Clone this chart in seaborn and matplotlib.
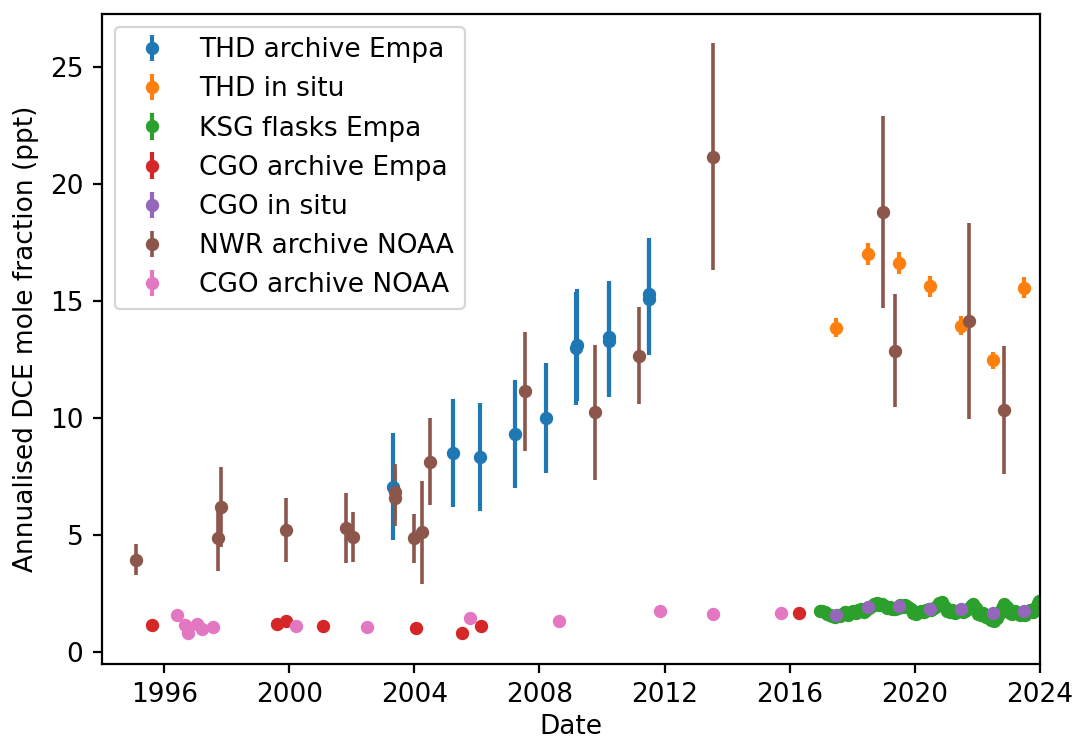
import matplotlib
matplotlib.use("Agg")
import matplotlib.pyplot as plt
import matplotlib.dates as mdates
import numpy as np
import pandas as pd
import seaborn as sns

# ---- THD archive Empa ----
thd_arch_dates = ["2003-04-22", "2005-03-22", "2006-02-06", "2007-03-22", "2008-03-15",
                  "2009-03-06", "2009-03-10", "2010-03-20", "2010-03-24", "2011-06-29", "2011-07-03"]
thd_arch_vals = [7.05, 8.48, 8.30, 9.29, 9.98, 12.95, 13.10, 13.28, 13.45, 15.08, 15.28]
thd_arch_err = [2.29, 2.30, 2.30, 2.32, 2.33, 2.40, 2.40, 2.40, 2.40, 2.40, 2.40]

# ---- THD in situ ----
thd_insitu_dates = ["2017-07-01", "2018-07-01", "2019-07-01", "2020-07-01",
                    "2021-07-01", "2022-07-01", "2023-07-01"]
thd_insitu_vals = [13.84, 16.98, 16.61, 15.61, 13.92, 12.44, 15.55]
thd_insitu_err = [0.40, 0.48, 0.46, 0.45, 0.40, 0.36, 0.45]

# ---- KSG flasks Empa (monthly, mid-month) ----
ksg_monthly = pd.date_range("2017-01-01", periods=84, freq="MS") + pd.Timedelta(days=14)
ksg_dates = ["2016-12-20"] + [d.strftime("%Y-%m-%d") for d in ksg_monthly] + ["2023-12-28"]
ksg_vals = [1.74,
            1.74, 1.70, 1.62, 1.55, 1.50, 1.46, 1.56, 1.50, 1.60, 1.67, 1.56, 1.70,
            1.72, 1.64, 1.76, 1.80, 1.70, 1.79, 1.86, 1.94, 2.04, 2.07, 1.97, 2.01,
            1.95, 1.86, 1.91, 1.83, 1.80, 1.87, 1.97, 1.89, 1.99, 1.92, 1.83, 1.64,
            1.60, 1.71, 1.74, 1.67, 1.77, 1.83, 1.77, 1.87, 1.93, 2.07, 2.11, 1.89,
            1.74, 1.68, 1.77, 1.65, 1.72, 1.79, 1.69, 1.75, 1.83, 1.95, 2.01, 1.85,
            1.60, 1.55, 1.65, 1.49, 1.43, 1.36, 1.30, 1.42, 1.61, 1.85, 2.01, 1.92,
            1.66, 1.59, 1.73, 1.63, 1.55, 1.63, 1.57, 1.71, 1.77, 1.71, 1.91, 2.08,
            2.14]
ksg_err = [0.05] * len(ksg_vals)

# ---- CGO archive Empa ----
cgo_arch_dates = ["1995-08-07", "1999-08-08", "1999-11-22", "2001-01-26",
                  "2004-01-26", "2005-07-05", "2006-02-14", "2016-04-16"]
cgo_arch_vals = [1.14, 1.17, 1.29, 1.11, 1.00, 0.81, 1.07, 1.64]
cgo_arch_err = [0.05, 0.05, 0.05, 0.05, 0.05, 0.05, 0.05, 0.05]

# ---- CGO in situ ----
cgo_insitu_dates = ["2017-07-01", "2018-07-01", "2019-07-01", "2020-07-01",
                    "2021-07-01", "2022-07-01", "2023-07-01"]
cgo_insitu_vals = [1.54, 1.90, 1.96, 1.81, 1.81, 1.64, 1.72]
cgo_insitu_err = [0.04, 0.04, 0.04, 0.04, 0.04, 0.04, 0.04]

# ---- NWR archive NOAA ----
nwr_dates = ["1995-02-03", "1997-09-24", "1997-10-20", "1999-11-22", "2001-10-20",
             "2002-01-12", "2003-05-15", "2003-05-18", "2003-12-28", "2004-03-28",
             "2004-07-01", "2007-07-19", "2009-10-08", "2011-03-04", "2013-07-16",
             "2018-12-24", "2019-05-22", "2021-10-01", "2022-11-10"]
nwr_vals = [3.93, 4.86, 6.17, 5.19, 5.29, 4.89, 6.82, 6.58, 4.83, 5.10,
            8.12, 11.12, 10.22, 12.65, 21.15, 18.78, 12.86, 14.12, 10.32]
nwr_err = [0.65, 1.42, 1.72, 1.36, 1.50, 1.07, 1.20, 1.20, 1.03, 2.20,
           1.85, 2.55, 2.90, 2.08, 4.85, 4.10, 2.40, 4.18, 2.72]

# ---- CGO archive NOAA ----
cgo_noaa_dates = ["1996-06-03", "1996-08-29", "1996-10-08", "1997-01-15", "1997-03-14",
                  "1997-07-19", "2000-03-18", "2002-06-25", "2005-10-12", "2008-08-18",
                  "2011-11-10", "2013-07-16", "2015-09-24"]
cgo_noaa_vals = [1.57, 1.14, 0.78, 1.17, 0.96, 1.04, 1.10, 1.03, 1.43, 1.29,
                 1.72, 1.62, 1.64]
cgo_noaa_err = [0.05] * len(cgo_noaa_vals)

# name, dates, values, uncertainties, error-bar width
series = [
    ("THD archive Empa", thd_arch_dates, thd_arch_vals, thd_arch_err, 1.5),
    ("THD in situ", thd_insitu_dates, thd_insitu_vals, thd_insitu_err, 1.5),
    ("KSG flasks Empa", ksg_dates, ksg_vals, ksg_err, 1.5),
    ("CGO archive Empa", cgo_arch_dates, cgo_arch_vals, cgo_arch_err, 1.5),
    ("CGO in situ", cgo_insitu_dates, cgo_insitu_vals, cgo_insitu_err, 1.5),
    ("NWR archive NOAA", nwr_dates, nwr_vals, nwr_err, 1.3),
    ("CGO archive NOAA", cgo_noaa_dates, cgo_noaa_vals, cgo_noaa_err, 1.5),
]

rc = {
    "axes.edgecolor": "black", "axes.labelcolor": "black", "text.color": "black",
    "xtick.color": "black", "ytick.color": "black",
    "axes.linewidth": 0.8, "xtick.major.width": 0.8, "ytick.major.width": 0.8,
    "xtick.major.size": 3.3, "ytick.major.size": 3.3,
    "xtick.major.pad": 3.3, "ytick.major.pad": 3.3,
    "font.size": 9.5, "axes.labelsize": 9.5, "xtick.labelsize": 9.5,
    "ytick.labelsize": 9.5, "legend.fontsize": 9.5,
    "lines.solid_capstyle": "projecting", "patch.force_edgecolor": False,
    "legend.edgecolor": "0.8", "legend.framealpha": 0.8, "legend.fancybox": True,
}
sns.set_theme(context="paper", style="ticks", palette="tab10", rc=rc)
plt.rcParams["font.family"] = ["DejaVu Sans"]

colors = sns.color_palette("tab10", len(series))

fig = plt.figure(figsize=(5.375, 3.7), dpi=200)
ax = fig.add_axes([0.0946, 0.1027, 0.8726, 0.879])

for (name, dates, vals, err, lw), c in zip(series, colors):
    x = pd.to_datetime(dates)
    ax.errorbar(x, vals, yerr=err, fmt="o", ms=3.8, elinewidth=lw,
                capsize=0, color=c, label=name)

ax.set_xlim(pd.Timestamp("1994-01-01"), pd.Timestamp("2024-01-01"))
ax.xaxis.set_major_locator(mdates.YearLocator(4))
ax.xaxis.set_major_formatter(mdates.DateFormatter("%Y"))
ax.set_xlabel("Date", labelpad=2.0)
ax.set_ylabel("Annualised DCE mole fraction (ppt)", labelpad=3.8)
ax.legend(loc="upper left")

fig.savefig("out.png", dpi=200)
